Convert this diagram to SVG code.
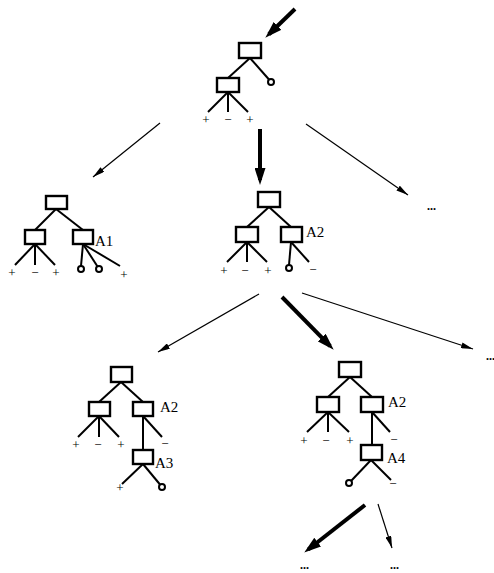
<svg xmlns="http://www.w3.org/2000/svg" width="494" height="573" viewBox="0 0 494 573">
<defs>
<style>
.bx{fill:#fff;stroke:#000;stroke-width:2.4}
.ln{stroke:#000;stroke-width:2;fill:none}
.ci{fill:#fff;stroke:#000;stroke-width:2}
.sg{font-family:"Liberation Serif",serif;font-size:13px;text-anchor:middle;fill:#000}
.lb{font-family:"Liberation Serif",serif;font-size:15px;fill:#000}
.dt{font-family:"Liberation Serif",serif;font-size:12px;font-weight:bold;fill:#000}
.thin{stroke:#000;stroke-width:1.2;fill:none;marker-end:url(#ah)}
.thick{stroke:#000;stroke-width:4;fill:none;marker-end:url(#ahb)}
</style>
<marker id="ah" markerUnits="userSpaceOnUse" markerWidth="12" markerHeight="6" refX="12" refY="3" orient="auto"><path d="M0,0 L12,3 L0,6 z" fill="#000"/></marker>
<marker id="ahb" markerUnits="userSpaceOnUse" markerWidth="17" markerHeight="11" refX="12" refY="5.5" orient="auto"><path d="M0,0 L17,5.5 L0,11 z" fill="#000"/></marker>
</defs>
<rect width="494" height="573" fill="#fff"/>

<g id="connectors">
<line class="thick" x1="295" y1="9" x2="268.9" y2="34.2"/>
<line class="thin" x1="160" y1="123" x2="93" y2="177"/>
<line class="thick" x1="260" y1="129" x2="260" y2="180"/>
<line class="thin" x1="306" y1="124" x2="408" y2="195"/>
<line class="thin" x1="259" y1="294" x2="158" y2="352"/>
<line class="thick" x1="282" y1="297" x2="330.2" y2="346.2"/>
<line class="thin" x1="302" y1="293" x2="473" y2="349"/>
<line class="thick" x1="365" y1="505" x2="308.2" y2="549.5"/>
<line class="thin" x1="378" y1="504" x2="392" y2="548"/>
</g>

<g id="tree0">
<line class="ln" x1="250" y1="58" x2="228" y2="78"/>
<line class="ln" x1="250" y1="58" x2="269" y2="79.5"/>
<circle class="ci" cx="271" cy="82" r="3"/>
<line class="ln" x1="228" y1="92" x2="208" y2="112"/>
<line class="ln" x1="228" y1="92" x2="228" y2="112"/>
<line class="ln" x1="228" y1="92" x2="248" y2="112"/>
<rect class="bx" x="239" y="43" width="22" height="15"/>
<rect class="bx" x="217" y="78" width="22" height="14"/>
<text class="sg" x="206" y="124">+</text>
<text class="sg" x="228" y="124">−</text>
<text class="sg" x="250" y="124">+</text>
</g>

<g id="tree1a">
<line class="ln" x1="56" y1="209" x2="35" y2="230"/>
<line class="ln" x1="56" y1="209" x2="83" y2="230"/>
<line class="ln" x1="35" y1="244" x2="15" y2="265"/>
<line class="ln" x1="35" y1="244" x2="35" y2="265"/>
<line class="ln" x1="35" y1="244" x2="55" y2="265"/>
<line class="ln" x1="83" y1="244" x2="81" y2="266"/>
<line class="ln" x1="83" y1="244" x2="97.5" y2="266.5"/>
<line class="ln" x1="83" y1="244" x2="120" y2="266"/>
<circle class="ci" cx="81" cy="269" r="3"/>
<circle class="ci" cx="99" cy="269" r="3"/>
<rect class="bx" x="46" y="196" width="21" height="13"/>
<rect class="bx" x="25" y="230" width="20" height="14"/>
<rect class="bx" x="73" y="230" width="20" height="14"/>
<text class="lb" x="95" y="246">A1</text>
<text class="sg" x="12" y="277">+</text>
<text class="sg" x="35" y="277">−</text>
<text class="sg" x="56" y="277">+</text>
<text class="sg" x="124" y="279">+</text>
</g>

<g id="tree1b">
<line class="ln" x1="269" y1="207" x2="247" y2="227"/>
<line class="ln" x1="269" y1="207" x2="291" y2="227"/>
<line class="ln" x1="247" y1="242" x2="227" y2="262"/>
<line class="ln" x1="247" y1="242" x2="247" y2="262"/>
<line class="ln" x1="247" y1="242" x2="267" y2="262"/>
<line class="ln" x1="291" y1="242" x2="289" y2="265"/>
<line class="ln" x1="291" y1="242" x2="309" y2="262"/>
<circle class="ci" cx="289" cy="268" r="3"/>
<rect class="bx" x="258" y="192" width="22" height="15"/>
<rect class="bx" x="236" y="227" width="22" height="15"/>
<rect class="bx" x="281" y="227" width="21" height="15"/>
<text class="lb" x="306" y="237">A2</text>
<text class="sg" x="224" y="275">+</text>
<text class="sg" x="245" y="275">−</text>
<text class="sg" x="268" y="275">+</text>
<text class="sg" x="313" y="274">−</text>
</g>

<g id="tree2a">
<line class="ln" x1="121" y1="382" x2="99" y2="402"/>
<line class="ln" x1="121" y1="382" x2="143" y2="402"/>
<line class="ln" x1="99" y1="416" x2="78" y2="437"/>
<line class="ln" x1="99" y1="416" x2="99" y2="437"/>
<line class="ln" x1="99" y1="416" x2="119" y2="437"/>
<line class="ln" x1="143" y1="416" x2="143" y2="450"/>
<line class="ln" x1="143" y1="416" x2="162" y2="437"/>
<line class="ln" x1="143" y1="464" x2="122" y2="484"/>
<line class="ln" x1="143" y1="464" x2="160" y2="484.5"/>
<circle class="ci" cx="162" cy="487" r="3"/>
<rect class="bx" x="111" y="367" width="21" height="15"/>
<rect class="bx" x="89" y="402" width="21" height="14"/>
<rect class="bx" x="133" y="402" width="20" height="14"/>
<rect class="bx" x="133" y="450" width="20" height="14"/>
<text class="lb" x="160" y="412">A2</text>
<text class="lb" x="155" y="468">A3</text>
<text class="sg" x="76" y="449">+</text>
<text class="sg" x="98" y="449">−</text>
<text class="sg" x="121" y="449">+</text>
<text class="sg" x="165" y="448">−</text>
<text class="sg" x="120" y="492">+</text>
</g>

<g id="tree2b">
<line class="ln" x1="350" y1="377" x2="328" y2="397"/>
<line class="ln" x1="350" y1="377" x2="372" y2="397"/>
<line class="ln" x1="328" y1="412" x2="307" y2="432"/>
<line class="ln" x1="328" y1="412" x2="328" y2="432"/>
<line class="ln" x1="328" y1="412" x2="349" y2="432"/>
<line class="ln" x1="372" y1="412" x2="372" y2="445"/>
<line class="ln" x1="372" y1="412" x2="390" y2="432"/>
<line class="ln" x1="371" y1="460" x2="351.5" y2="480.5"/>
<line class="ln" x1="371" y1="460" x2="391" y2="480"/>
<circle class="ci" cx="349" cy="483" r="3"/>
<rect class="bx" x="339" y="362" width="22" height="15"/>
<rect class="bx" x="317" y="397" width="22" height="15"/>
<rect class="bx" x="361" y="397" width="22" height="15"/>
<rect class="bx" x="361" y="445" width="21" height="15"/>
<text class="lb" x="388" y="407">A2</text>
<text class="lb" x="387" y="463">A4</text>
<text class="sg" x="304" y="445">+</text>
<text class="sg" x="326" y="445">−</text>
<text class="sg" x="350" y="445">+</text>
<text class="sg" x="394" y="444">−</text>
<text class="sg" x="393" y="488">−</text>
</g>

<g id="ellipses">
<text class="dt" x="427" y="210">...</text>
<text class="dt" x="486" y="360">...</text>
<text class="dt" x="300" y="569">...</text>
<text class="dt" x="390" y="569">...</text>
</g>
</svg>
